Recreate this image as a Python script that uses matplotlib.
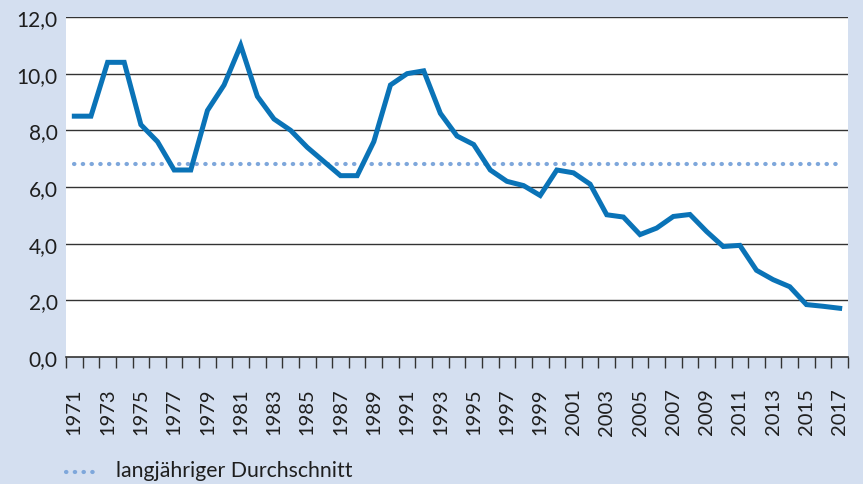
import matplotlib
matplotlib.use("Agg")
import matplotlib.pyplot as plt
from matplotlib.lines import Line2D

years = list(range(1971, 2018))
values = [8.5, 8.5, 10.4, 10.4, 8.2, 7.6, 6.6, 6.6, 8.7, 9.6,
          11.0, 9.2, 8.4, 8.0, 7.4, 6.9, 6.4, 6.4, 7.6, 9.6,
          10.0, 10.1, 8.6, 7.8, 7.5, 6.6, 6.2, 6.05, 5.7, 6.6,
          6.5, 6.1, 5.02, 4.94, 4.32, 4.55, 4.96, 5.03, 4.43, 3.9,
          3.94, 3.06, 2.73, 2.48, 1.85, 1.79, 1.72]
average = 6.8
y_ticks = [0, 2, 4, 6, 8, 10, 12]
legend_label = "langjähriger Durchschnitt"

BG = "#d4dff0"
LINE = "#0a73b7"
AVG = "#7ea7db"
TXT = "#1e1e1e"

plt.rcParams['font.family'] = ['Lato', 'DejaVu Sans']

fig = plt.figure(figsize=(8.63, 4.85), dpi=100, facecolor=BG)
W, H = 863, 485
ax = fig.add_axes([66 / W, 1 - 358 / H, (848 - 66) / W, (358 - 18) / H])
ax.set_facecolor("white")

DOT = (0, (0.1, 2.0))
DOT_LW = 3.0
x = list(range(len(years)))
ax.plot(x, [average] * len(x), color=AVG, lw=DOT_LW, linestyle=DOT,
        dash_capstyle="round", zorder=3)
ax.plot(x, values, color=LINE, lw=3.6, solid_joinstyle="miter", zorder=4)

ax.set_xlim(-0.5, len(years) - 0.5)
ax.set_ylim(0, 12)
ax.set_yticks(y_ticks)
ax.set_yticklabels([f"{v:.1f}".replace(".", ",") for v in y_ticks], fontsize=15, color=TXT)
ax.tick_params(axis="y", length=0, pad=6)
for v in y_ticks[1:]:
    ax.axhline(v, color="#333333", lw=1.0, zorder=1)

lab_idx = [i for i, yv in enumerate(years) if (yv - 1971) % 2 == 0]
ax.set_xticks(lab_idx)
ax.set_xticklabels([str(years[i]) for i in lab_idx], rotation=90, fontsize=14.5, color=TXT)
ax.tick_params(axis="x", which="major", length=0, pad=22)
ax.set_xticks([i - 0.5 for i in range(len(years) + 1)], minor=True)
ax.tick_params(axis="x", which="minor", length=8, width=1.0, color="#333333", direction="out")

for s in ["top", "right", "left"]:
    ax.spines[s].set_visible(False)
ax.spines["bottom"].set_color("#333333")
ax.spines["bottom"].set_linewidth(1.2)

fig.lines.append(Line2D([66 / W, 101 / W], [1 - 473 / H, 1 - 473 / H], transform=fig.transFigure,
                        color=AVG, lw=DOT_LW, linestyle=DOT, dash_capstyle="round"))
fig.text(116 / W, 1 - 471 / H, legend_label, fontsize=15.3, va="center", ha="left", color=TXT)

fig.savefig("out.png", dpi=100, facecolor=BG)
